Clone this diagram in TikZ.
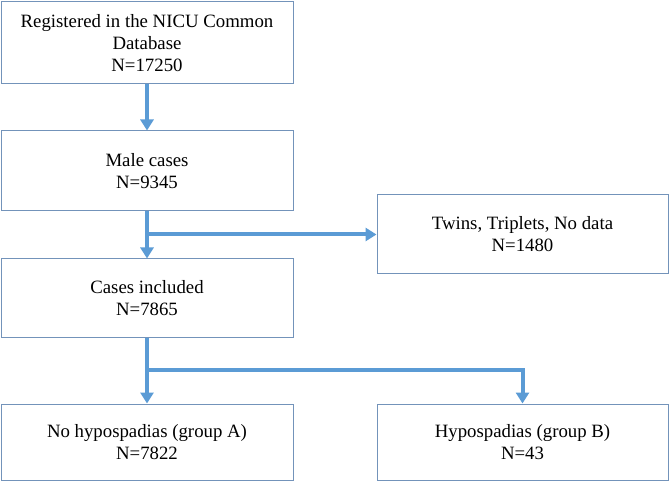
\documentclass[tikz,border=0pt]{standalone}
\usepackage{fontspec}
\setmainfont{Liberation Serif}
\usetikzlibrary{arrows.meta}
\definecolor{boxline}{HTML}{7393BA}
\definecolor{arrowblue}{HTML}{5B9BD5}
\begin{document}
\begin{tikzpicture}[x=1pt,y=-1pt,
  box/.style={draw=boxline,line width=1pt,fill=white,minimum width=292pt,align=center,inner sep=0pt,
    font=\fontsize{18.8pt}{22pt}\selectfont},
  conn/.style={draw=arrowblue,line width=4pt,-{Triangle[width=13pt,length=11pt]}}]
\useasboundingbox (0,0) rectangle (670,481);
\node[box,minimum height=82pt] (reg) at (147,43) {Registered in the NICU Common\\Database\\N=17250};
\node[box,minimum height=80pt] (male) at (147,171) {Male cases\\N=9345};
\node[box,minimum height=79pt] (incl) at (147,298.5) {Cases included\\N=7865};
\node[box,minimum height=79pt,minimum width=291pt] (twins) at (522.5,234.5) {Twins, Triplets, No data\\N=1480};
\node[box,minimum height=76pt] (noh) at (147,442) {No hypospadias (group A)\\N=7822};
\node[box,minimum height=76pt,minimum width=291pt] (hyp) at (522.5,442) {Hypospadias (group B)\\N=43};
\coordinate (b1) at (147,234.5);
\coordinate (b2) at (147,370);
\path[conn] (reg.south) -- (male.north);
\path[conn] (male.south) -- (incl.north);
\path[conn] (b1) -- (twins.west);
\path[conn] (incl.south) -- (noh.north);
\path[conn] (b2) -| (hyp.north);
\end{tikzpicture}
\end{document}
